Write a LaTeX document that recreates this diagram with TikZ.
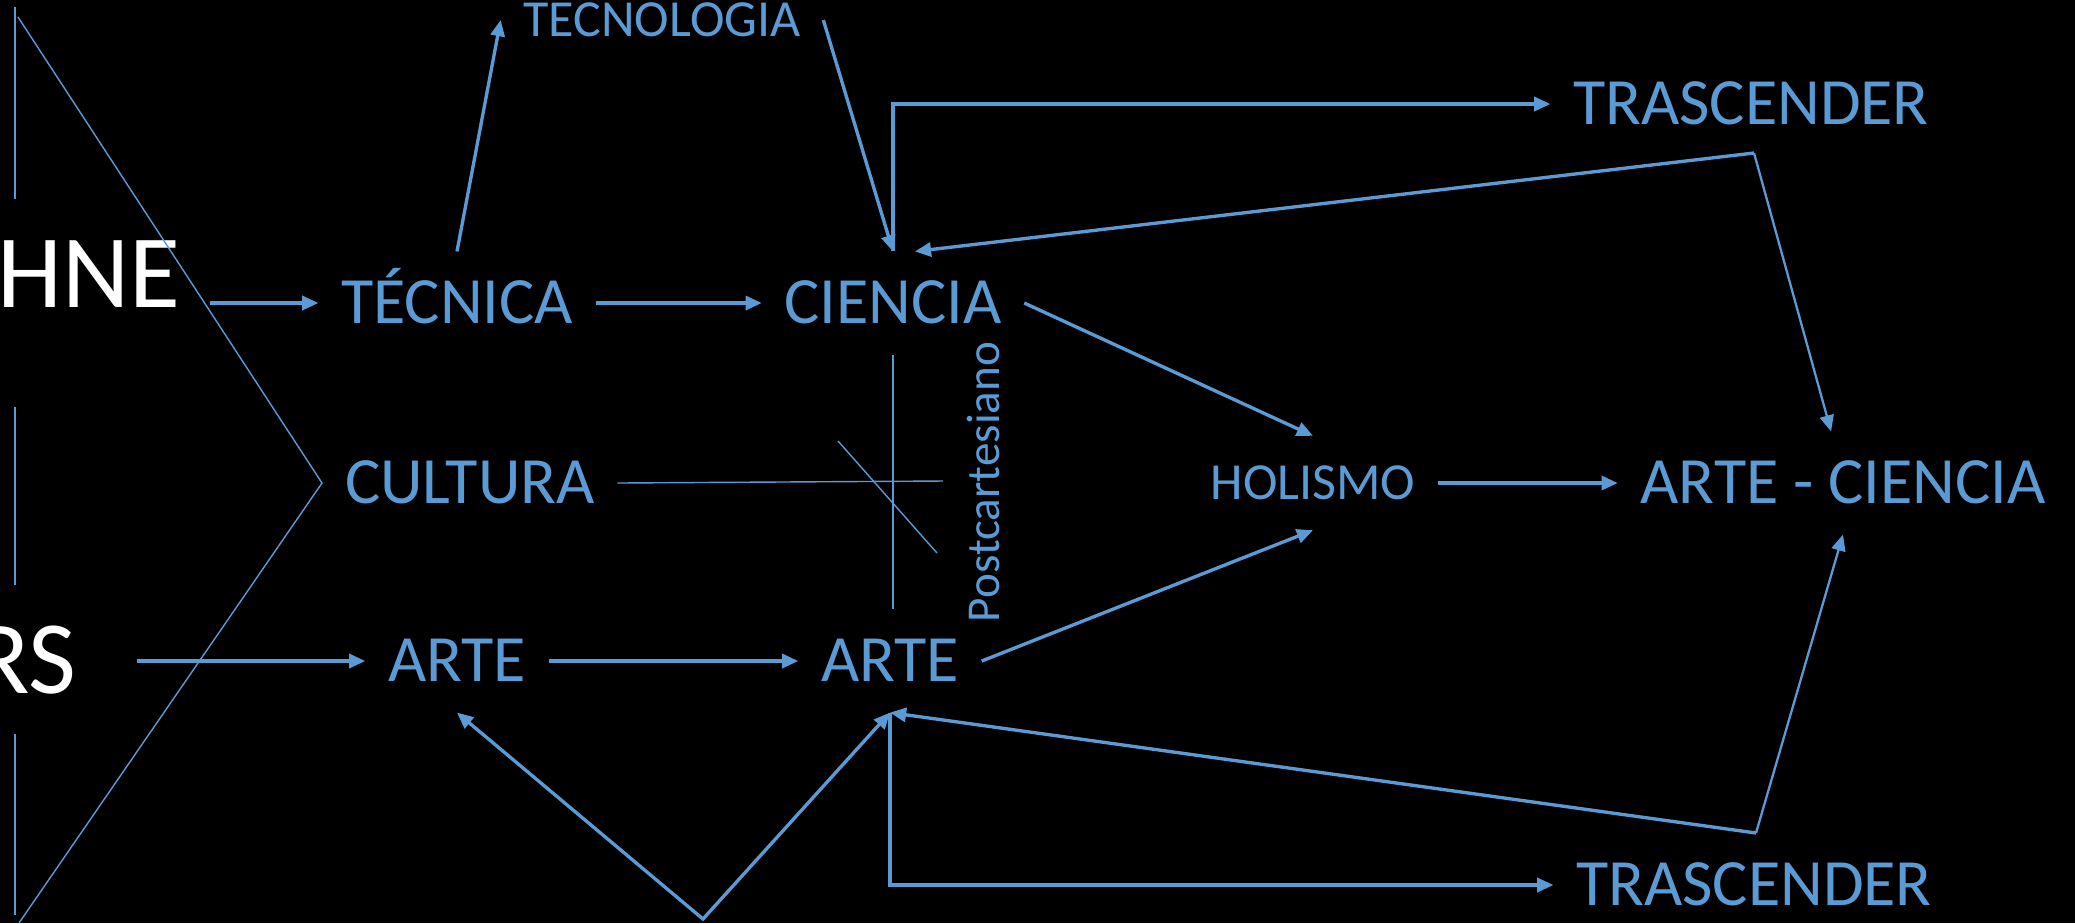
\documentclass[tikz,border=0pt]{standalone}
\usepackage{fontspec}
\setmainfont{Carlito}
\usetikzlibrary{arrows.meta}
\definecolor{azul}{HTML}{5B9BD5}
\tikzset{
  concepto/.style={text=azul, inner xsep=0.22cm, inner ysep=0.30cm,
    text height=0.417cm, text depth=0pt, font=\fontsize{18.8}{22}\selectfont},
  conceptochico/.style={concepto, text height=0.329cm, font=\fontsize{14.8}{18}\selectfont},
  raiz/.style={text=white, inner xsep=0.29cm, inner ysep=0.30cm,
    text height=0.657cm, text depth=0pt, font=\fontsize{29.6}{34}\selectfont},
  flecha/.style={azul, line width=0.95pt, -{Triangle[length=4.6pt,width=4pt]}},
  flechafina/.style={flecha, line width=0.65pt},
  flechados/.style={flecha, {Triangle[length=4.6pt,width=4pt]}-{Triangle[length=4.6pt,width=4pt]}},
  linea/.style={azul, line width=0.4pt}
}
\begin{document}
\begin{tikzpicture}[x=0.01cm, y=-0.01cm]
  % Fondo
  \fill[black] (0,0) rectangle (2075,923);
  \useasboundingbox (0,0) rectangle (2075,923);

  % Raices
  \node[raiz, anchor=east] (hne) at (210,275) {HNE};
  \node[raiz, anchor=east, inner xsep=0.6cm] (rs) at (137,661) {RS};

  % Conceptos
  \node[conceptochico] (tecnologia) at (662,20) {TECNOLOGÍA};
  \node[concepto] (tecnica) at (457,303) {TÉCNICA};
  \node[concepto] (ciencia) at (893,303) {CIENCIA};
  \node[concepto] (cultura) at (470,483) {CULTURA};
  \node[concepto] (arte1) at (457,661) {ARTE};
  \node[concepto] (arte2) at (890,661) {ARTE};
  \node[conceptochico] (holismo) at (1313,483) {HOLISMO};
  \node[concepto] (artecien) at (1843,483) {ARTE - CIENCIA};
  \node[concepto] (trasc1) at (1751,104) {TRASCENDER};
  \node[concepto] (trasc2) at (1754,885) {TRASCENDER};
  \node[text=azul, rotate=90, anchor=base, inner sep=0pt,
    font=\fontsize{13.4}{16}\selectfont] (postc) at (999,482) {Postcartesiano};

  % Puntos de quiebre
  \coordinate (kt) at (1754,153);
  \coordinate (kb) at (1756,833);
  \coordinate (vertice) at (703,919);
  \coordinate (culturafin) at (943,481);
  \coordinate (d1) at (838,441);
  \coordinate (d2) at (937,553);

  % Marco izquierdo
  \foreach \a/\b in {7/199, 407/585, 734/915}
    \draw[linea] (15,\a) -- (15,\b);
  \draw[linea] (18,17) -- (322,483) -- (19,923);

  % Flechas
  \draw[flecha] (tecnica.west -| hne.east) -- (tecnica.west);
  \draw[flecha] (rs.east) -- (arte1.west);
  \draw[flecha] (tecnica.east) -- (ciencia.west);
  \draw[flecha] (arte1.east) -- (arte2.west);
  \draw[flecha] (tecnica.north) -- (tecnologia.west);
  \draw[flecha] (tecnologia.east) -- (ciencia.north);
  \draw[flecha] (ciencia.north) |- (trasc1.west);
  \draw[flecha] (arte2.south) |- (trasc2.west);
  \draw[flechados] (arte1.south) -- (vertice) -- (arte2.south);
  \draw[flecha] (ciencia.east) -- (holismo.north);
  \draw[flecha] (arte2.east) -- (holismo.south);
  \draw[flecha] (holismo.east) -- (artecien.west);
  \draw[flecha] (kt) -- (ciencia.67);
  \draw[flechafina] (kt) -- (artecien.103);
  \draw[flecha] (kb) -- (arte2.south);
  \draw[flechafina] (kb) -- (artecien.south);

  % Cruce
  \draw[linea] (cultura.east) -- (culturafin);
  \draw[linea] (ciencia.south) -- (ciencia.south |- arte2.north);
  \draw[linea] (d1) -- (d2);
\end{tikzpicture}
\end{document}
